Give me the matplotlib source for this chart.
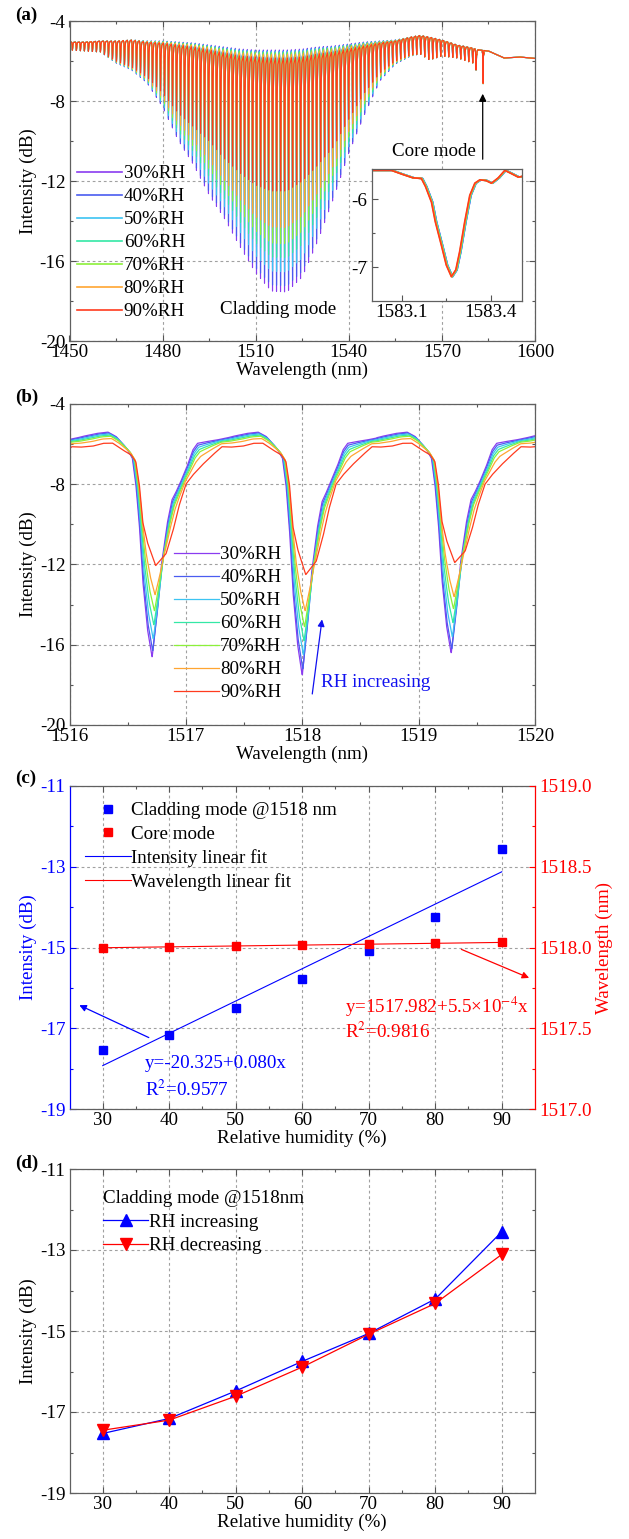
import numpy as np
import matplotlib
matplotlib.use('Agg')
import matplotlib.pyplot as plt
from matplotlib.ticker import FixedLocator, FormatStrFormatter

plt.rcParams['font.family'] = ['Liberation Serif', 'DejaVu Serif']
plt.rcParams['mathtext.fontset'] = 'stix'
plt.rcParams['axes.unicode_minus'] = False
FS = 13.7
plt.rcParams['font.size'] = FS

W, H = 629, 1539  # figure size in px (dpi 100)

# ---------------- humidity series ----------------
rh_labels = ['30%RH', '40%RH', '50%RH', '60%RH', '70%RH', '80%RH', '90%RH']
rh_colors = ['#8A3CF0', '#4A5CF0', '#3CC4F2', '#34E8A6', '#8CF03A', '#FFA531', '#FF3B1E']
# weight of the 90 %RH trace shape (read from lobe tops in (b))
rh_weight = [0.0, 0.08, 0.17, 0.27, 0.37, 0.58, 1.0]
# small shift of the fringes with humidity (nm)
rh_shift = [0.0, 0.005, 0.01, 0.015, 0.02, 0.025, 0.03]

# ---------------- (b) zoomed spectra ----------------
# one fringe period around a dip, offsets in nm from the dip centre
tpl_off_30 = [-0.645, -0.6, -0.48, -0.38, -0.31, -0.25, -0.21, -0.17, -0.14, -0.11, -0.08, -0.04, 0.0,
              0.04, 0.08, 0.13, 0.17, 0.20, 0.24, 0.30, 0.35, 0.39, 0.46, 0.55, 0.645]
tpl_int_30 = [-5.69, -5.62, -5.47, -5.40, -5.62, -6.00, -6.30, -6.70, -8.00, -10.0, -12.8, -15.2, -16.6,
              -14.5, -12.0, -9.94, -8.78, -8.45, -7.95, -7.12, -6.29, -5.96, -5.88, -5.80, -5.69]
tpl_off_90 = [-0.645, -0.54, -0.45, -0.37, -0.28, -0.21, -0.17, -0.14, -0.11, -0.07, 0.0,
              0.09, 0.15, 0.20, 0.26, 0.32, 0.40, 0.49, 0.57, 0.645]
tpl_int_90 = [-6.15, -6.10, -5.96, -5.95, -6.30, -6.54, -6.88, -8.0, -9.9, -10.9, -12.05,
              -11.45, -10.3, -9.1, -8.0, -7.54, -7.04, -6.54, -6.13, -6.15]
b_dip_centres = [1516.71, 1518.00, 1519.28]
# dip minima (dB) per humidity, for the three dips
b_dip_min = [
    [-16.6, -17.5, -16.4],
    [-16.3, -17.2, -16.2],
    [-15.7, -16.5, -15.6],
    [-15.0, -15.8, -14.9],
    [-14.3, -15.1, -14.2],
    [-13.5, -14.3, -13.6],
    [-12.05, -12.5, -11.9],
]
fringe_period = 1.29

# ---------------- (a) full spectra envelopes ----------------
a_env_wl = [1450, 1455, 1460, 1465, 1470, 1475, 1480, 1485, 1490, 1495, 1500, 1505, 1510, 1515, 1520,
            1525, 1530, 1535, 1540, 1545, 1550, 1555, 1560, 1563, 1566, 1570, 1575, 1580, 1582, 1585,
            1590, 1595, 1600]
a_top_30 = [-5.05, -5.05, -5.0, -5.0, -4.95, -5.0, -5.0, -5.05, -5.1, -5.2, -5.3, -5.4, -5.45, -5.45, -5.45,
            -5.4, -5.3, -5.25, -5.15, -5.05, -5.0, -4.95, -4.8, -4.72, -4.8, -4.95, -5.2, -5.35, -5.45, -5.5,
            -5.85, -5.8, -5.87]
a_dip_30 = [-5.45, -5.5, -5.55, -6.1, -6.45, -7.1, -8.3, -9.95, -11.2, -12.7, -13.9, -15.3, -16.6, -17.5, -17.55,
            -16.8, -15.0, -12.9, -10.6, -8.7, -7.0, -6.15, -5.75, -5.65, -5.95, -5.75, -5.85, -6.1, -5.45, -5.5,
            -5.85, -5.8, -5.87]
a_top_90 = [-5.05, -5.05, -5.0, -5.0, -4.95, -5.05, -5.1, -5.2, -5.3, -5.45, -5.6, -5.75, -5.8, -5.85, -5.85,
            -5.8, -5.65, -5.55, -5.4, -5.25, -5.1, -5.0, -4.8, -4.72, -4.8, -4.95, -5.2, -5.35, -5.45, -5.5,
            -5.85, -5.8, -5.87]
a_dip_90 = [-5.45, -5.5, -5.55, -6.0, -6.3, -6.8, -7.6, -8.6, -9.3, -10.0, -10.9, -11.6, -12.2, -12.5, -12.5,
            -12.0, -11.2, -10.3, -8.9, -7.6, -6.6, -6.0, -5.7, -5.65, -5.95, -5.75, -5.85, -6.1, -5.45, -5.5,
            -5.85, -5.8, -5.87]
a_notch_wl = [1581.0]
a_notch_min = [-6.45]

# inset: core mode dip
inset_wl = [1583.0, 1583.065, 1583.103, 1583.137, 1583.166, 1583.18, 1583.2, 1583.213, 1583.233, 1583.25,
            1583.267, 1583.282, 1583.295, 1583.312, 1583.329, 1583.346, 1583.363, 1583.383, 1583.402,
            1583.425, 1583.447, 1583.47, 1583.492, 1583.505]
inset_int = [-5.57, -5.57, -5.63, -5.68, -5.69, -5.81, -6.04, -6.33, -6.67, -6.97,
             -7.14, -7.04, -6.77, -6.33, -5.94, -5.76, -5.71, -5.72, -5.76,
             -5.68, -5.57, -5.62, -5.67, -5.66]
inset_shift = [0.004, 0.0045, 0.004, 0.003, 0.002, 0.001, 0.0]

# ---------------- (c) and (d) ----------------
rh = [30, 40, 50, 60, 70, 80, 90]
clad_int = [-17.55, -17.17, -16.5, -15.77, -15.08, -14.24, -12.55]
core_wl = [1517.999, 1518.004, 1518.010, 1518.014, 1518.020, 1518.026, 1518.031]
int_fit = (-20.325, 0.080)
wl_fit = (1517.982, 5.5e-4)
rh_up = [-17.53, -17.16, -16.48, -15.75, -15.06, -14.21, -12.55]
rh_down = [-17.45, -17.2, -16.61, -15.89, -15.08, -14.32, -13.11]


def style_axis(ax, xmaj, xmin_, ymaj, ymin_, grid=True):
    ax.xaxis.set_major_locator(FixedLocator(xmaj))
    ax.xaxis.set_minor_locator(FixedLocator(xmin_))
    ax.yaxis.set_major_locator(FixedLocator(ymaj))
    ax.yaxis.set_minor_locator(FixedLocator(ymin_))
    ax.tick_params(which='both', direction='in', top=True, right=True, labelsize=FS, width=0.8,
                   color='#555555')
    ax.tick_params(axis='x', which='both', pad=2)
    ax.tick_params(axis='y', which='both', pad=3)
    ax.tick_params(which='major', length=4)
    ax.tick_params(which='minor', length=2.5)
    if grid:
        ax.grid(True, which='major', linestyle=(0, (2.5, 2.5)), color='#A0A0A0', linewidth=0.8)
    ax.set_axisbelow(True)
    for s in ax.spines.values():
        s.set_color('#606060')
        s.set_linewidth(0.9)


fig = plt.figure(figsize=(W / 100, H / 100), dpi=100)


def box(left, top, right, bottom):
    return [left / W, 1 - bottom / H, (right - left) / W, (bottom - top) / H]


ax_a = fig.add_axes(box(69.5, 21, 535, 341))
ax_b = fig.add_axes(box(69.5, 404, 535, 725))
ax_c = fig.add_axes(box(69.5, 786, 535, 1109))
ax_d = fig.add_axes(box(69.5, 1169, 535, 1493))

for lab, ypx in zip(['(a)', '(b)', '(c)', '(d)'], [15, 397, 778, 1163]):
    fig.text(15 / W, 1 - ypx / H, lab, fontweight='bold', fontsize=FS, va='center', ha='left')

# ---------------- (b) ----------------
off_grid = np.linspace(-0.645, 0.645, 600)
t30 = np.interp(off_grid, tpl_off_30, tpl_int_30)
t90 = np.interp(off_grid, tpl_off_90, tpl_int_90)
knee = -8.0
wl_b = np.linspace(1516, 1520, 3001)
for i in range(7):
    w = rh_weight[i]
    tb = (1 - w) * t30 + w * t90
    tmin = tb.min()
    centres = np.array([b_dip_centres[0] - fringe_period] + b_dip_centres
                       + [b_dip_centres[-1] + fringe_period]) + rh_shift[i]
    mins = np.array([b_dip_min[i][0]] + b_dip_min[i] + [b_dip_min[i][-1]])
    k = np.argmin(np.abs(wl_b[:, None] - centres[None, :]), axis=1)
    off = wl_b - centres[k]
    y = np.interp(off, off_grid, tb)
    deep = y < knee
    y[deep] = knee + (y[deep] - knee) * (mins[k][deep] - knee) / (tmin - knee)
    ax_b.plot(wl_b, y, color=rh_colors[i], lw=0.9, label=rh_labels[i])

ax_b.set_xlim(1516, 1520)
ax_b.set_ylim(-20, -4)
style_axis(ax_b, [1516, 1517, 1518, 1519, 1520], [1516.5, 1517.5, 1518.5, 1519.5],
           [-20, -16, -12, -8, -4], [-18, -14, -10, -6])
ax_b.xaxis.set_major_formatter(FormatStrFormatter('%d'))
ax_b.set_xlabel('Wavelength (nm)', labelpad=1)
ax_b.set_ylabel('Intensity (dB)', labelpad=2)
ax_b.legend(loc='upper left', bbox_to_anchor=(0.2245, 0.558), frameon=False, borderpad=0,
            borderaxespad=0, handlelength=2.35, handletextpad=0.08, labelspacing=0.3, fontsize=FS)
ax_b.annotate('', xy=(1518.173, -14.6), xytext=(1518.083, -18.59),
              arrowprops=dict(arrowstyle='-|>', color='#1010F0', lw=0.9, mutation_scale=10))
ax_b.text(1518.16, -17.9, 'RH increasing', color='#1010F0', fontsize=FS, va='center', ha='left')

# ---------------- (a) ----------------
n_off = np.array(tpl_off_30)
n_val = (np.array(tpl_int_30) - tpl_int_30[3]) / (tpl_int_30[12] - tpl_int_30[3])
dip_frac = [(m[1] - b_dip_min[0][1]) / (b_dip_min[-1][1] - b_dip_min[0][1]) for m in b_dip_min]
for i in range(7):
    c0 = b_dip_centres[1] + rh_shift[i]
    kk = np.arange(np.floor((1450 - c0) / fringe_period), np.ceil((1600 - c0) / fringe_period) + 1)
    centres = c0 + kk * fringe_period
    wl_a = np.unique(np.concatenate([np.arange(1450, 1600.0001, 0.01),
                                     centres[(centres > 1450) & (centres < 1600)]]))
    top = (np.interp(wl_a, a_env_wl, a_top_30) * (1 - rh_weight[i])
           + np.interp(wl_a, a_env_wl, a_top_90) * rh_weight[i])
    dip = (np.interp(wl_a, a_env_wl, a_dip_30) * (1 - dip_frac[i])
           + np.interp(wl_a, a_env_wl, a_dip_90) * dip_frac[i])
    off = wl_a - (c0 + np.round((wl_a - c0) / fringe_period) * fringe_period)
    y = top + (dip - top) * np.interp(off, n_off, n_val)
    for nw, nm in zip(a_notch_wl, a_notch_min):
        y = np.minimum(y, top + (nm - top) * np.interp(wl_a - nw, n_off, n_val, left=0, right=0))
    core = (wl_a >= inset_wl[0]) & (wl_a <= inset_wl[-1])
    y[core] = np.interp(wl_a[core], np.array(inset_wl) + inset_shift[i], inset_int)
    ax_a.plot(wl_a, y, color=rh_colors[i], lw=0.8, label=rh_labels[i])

ax_a.set_xlim(1450, 1600)
ax_a.set_ylim(-20, -4)
style_axis(ax_a, [1450, 1480, 1510, 1540, 1570, 1600], [1465, 1495, 1525, 1555, 1585],
           [-20, -16, -12, -8, -4], [-18, -14, -10, -6])
ax_a.set_xlabel('Wavelength (nm)', labelpad=1)
ax_a.set_ylabel('Intensity (dB)', labelpad=2)
leg_a = ax_a.legend(loc='upper left', bbox_to_anchor=(0.017, 0.55), frameon=False, borderpad=0,
                    borderaxespad=0, handlelength=2.35, handletextpad=0.08, labelspacing=0.3, fontsize=FS)
for ln in leg_a.get_lines():
    ln.set_linewidth(1.2)
ax_a.text(1517.3, -18.43, 'Cladding mode', fontsize=FS, ha='center', va='center')
ax_a.text(1567.3, -10.5, 'Core mode', fontsize=FS, ha='center', va='center')
ax_a.annotate('', xy=(1583.15, -7.5), xytext=(1583.15, -11.05),
              arrowprops=dict(arrowstyle='-|>', color='black', lw=0.9, mutation_scale=11))

ax_in = fig.add_axes(box(372, 169, 522, 301))
for i in range(7):
    ax_in.plot(np.array(inset_wl) + inset_shift[i], inset_int, color=rh_colors[i], lw=1.2)
ax_in.set_xlim(1583.0, 1583.505)
ax_in.set_ylim(-7.5, -5.55)
ax_in.xaxis.set_major_locator(FixedLocator([1583.1, 1583.4]))
ax_in.xaxis.set_minor_locator(FixedLocator([1583.25]))
ax_in.yaxis.set_major_locator(FixedLocator([-7, -6]))
ax_in.yaxis.set_minor_locator(FixedLocator([-6.5]))
ax_in.xaxis.set_major_formatter(FormatStrFormatter('%.1f'))
ax_in.tick_params(which='both', direction='in', labelsize=FS, width=0.8, color='#555555')
ax_in.tick_params(which='major', length=4)
ax_in.tick_params(which='minor', length=2.5)
ax_in.tick_params(axis='x', pad=2)
for s in ax_in.spines.values():
    s.set_color('#606060')
    s.set_linewidth(0.9)

# ---------------- (c) ----------------
ax_c2 = ax_c.twinx()
ax_c2.set_position(ax_c.get_position())
fx = np.array([rh[0], rh[-1]])
h1, = ax_c.plot(rh, clad_int, 's', color='#0000FF', ms=6, label='Cladding mode @1518 nm', zorder=3)
h3, = ax_c.plot(fx, int_fit[0] + int_fit[1] * fx, color='#0000FF', lw=0.8, label='Intensity linear fit')
h2, = ax_c2.plot(rh, core_wl, 's', color='#FF0000', ms=6, label='Core mode', zorder=3)
h4, = ax_c2.plot(fx, wl_fit[0] + wl_fit[1] * fx, color='#FF0000', lw=0.8, label='Wavelength linear fit')
ax_c.set_xlim(25, 95)
ax_c.set_ylim(-19, -11)
ax_c2.set_ylim(1517.0, 1519.0)
style_axis(ax_c, rh, [35, 45, 55, 65, 75, 85], [-19, -17, -15, -13, -11], [-18, -16, -14, -12])
ax_c.tick_params(axis='y', which='both', right=False, colors='#0000FF')
ax_c2.yaxis.set_major_locator(FixedLocator([1517.0, 1517.5, 1518.0, 1518.5, 1519.0]))
ax_c2.yaxis.set_minor_locator(FixedLocator([1517.25, 1517.75, 1518.25, 1518.75]))
ax_c2.yaxis.set_major_formatter(FormatStrFormatter('%.1f'))
ax_c2.tick_params(which='both', direction='in', labelsize=FS, width=0.8, colors='#FF0000', pad=3)
ax_c2.tick_params(which='major', length=4)
ax_c2.tick_params(which='minor', length=2.5)
for s in ax_c2.spines.values():
    s.set_visible(False)
ax_c2.spines['right'].set_visible(True)
ax_c2.spines['right'].set_color('#FF0000')
ax_c2.spines['right'].set_linewidth(0.9)
ax_c.spines['left'].set_color('#0000FF')
ax_c.spines['right'].set_visible(False)
ax_c.set_xlabel('Relative humidity (%)', labelpad=1)
ax_c.set_ylabel('Intensity (dB)', color='#0000FF', labelpad=2)
ax_c2.set_ylabel('Wavelength (nm)', color='#FF0000', labelpad=3)
ax_c2.legend(handles=[h1, h2, h3, h4], loc='upper left', bbox_to_anchor=(0.033, 0.95), frameon=False,
             borderpad=0, borderaxespad=0, handlelength=2.4, handletextpad=0.05, labelspacing=0.32,
             fontsize=FS)
ax_c.annotate('', xy=(26.1, -16.4), xytext=(37.3, -17.26),
              arrowprops=dict(arrowstyle='-|>', color='#0000FF', lw=0.9, mutation_scale=10))
ax_c.annotate('', xy=(94.5, -15.78), xytext=(83.55, -15.02),
              arrowprops=dict(arrowstyle='-|>', color='#FF0000', lw=0.9, mutation_scale=10))
ax_c.text(36.3, -17.88, 'y=-20.325+0.080x', color='#0000FF', fontsize=FS, va='center', ha='left')
ax_c.text(36.3, -18.52, 'R$^2$=0.9577', color='#0000FF', fontsize=FS, va='center', ha='left')
ax_c.text(66.5, -16.46, 'y=1517.982+5.5\u00d710$^{-4}$x', color='#FF0000', fontsize=FS, va='center', ha='left')
ax_c.text(66.5, -17.09, 'R$^2$=0.9816', color='#FF0000', fontsize=FS, va='center', ha='left')

# ---------------- (d) ----------------
ax_d.plot(rh, rh_up, '-^', color='#0000FF', ms=8, lw=0.9, label='RH increasing')
ax_d.plot(rh, rh_down, '-v', color='#FF0000', ms=8, lw=0.9, label='RH decreasing')
ax_d.set_xlim(25, 95)
ax_d.set_ylim(-19, -11)
style_axis(ax_d, rh, [35, 45, 55, 65, 75, 85], [-19, -17, -15, -13, -11], [-18, -16, -14, -12])
ax_d.set_xlabel('Relative humidity (%)', labelpad=1)
ax_d.set_ylabel('Intensity (dB)', labelpad=2)
leg_d = ax_d.legend(loc='upper left', bbox_to_anchor=(0.0716, 0.934), frameon=False, borderpad=0,
                    borderaxespad=0, handlelength=2.4, handletextpad=0.05, labelspacing=0.32,
                    fontsize=FS, title='Cladding mode @1518nm', title_fontsize=FS, alignment='left')

fig.savefig('out.png', dpi=100)
